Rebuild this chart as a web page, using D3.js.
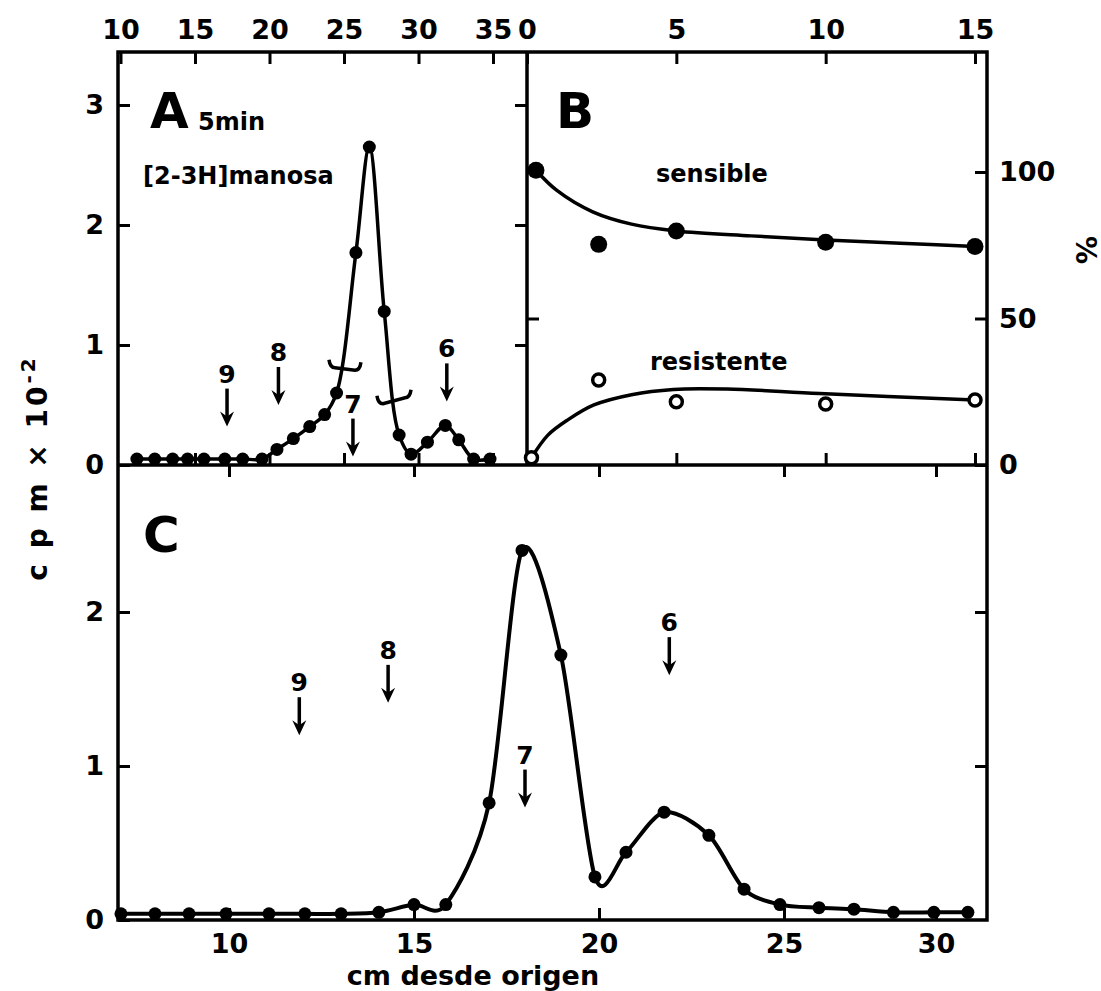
<!DOCTYPE html>
<html>
<head>
<meta charset="utf-8">
<script src="https://cdn.jsdelivr.net/npm/d3@7"></script>
<style>
body { margin: 0; background: #fff; }
text { font-family: "DejaVu Sans", sans-serif; font-weight: bold; fill: #000; }
</style>
</head>
<body>
<svg id="chart" width="1101" height="991"></svg>
<script>
// panel A : 5 min pulse, cpm x 10^-2 vs cm
var aCm  = [11.1, 12.3, 13.5, 14.5, 15.6, 17.0, 18.2, 19.5, 20.5, 21.6, 22.7, 23.7, 24.5, 25.8, 26.7, 27.7, 28.7, 29.5, 30.6, 31.8, 32.7, 33.7, 34.8];
var aCpm = [0.05, 0.05, 0.05, 0.05, 0.05, 0.05, 0.05, 0.05, 0.13, 0.22, 0.32, 0.42, 0.6, 1.77, 2.65, 1.28, 0.25, 0.09, 0.19, 0.33, 0.21, 0.05, 0.05];

// panel B : % sensible / resistente vs time
var sensT = [0.3, 2.4, 5, 10, 15];
var sensV = [100.6, 75.3, 79.9, 76, 74.6];
var resT  = [0.15, 2.4, 5, 10, 15];
var resV  = [2.5, 29, 21.6, 20.8, 22.2];
// hand drawn curves in B
var sensFitT = [0.3, 1, 2.2, 3.5, 5, 7.5, 10, 12.5, 15];
var sensFitV = [100.6, 93.7, 86.4, 82.2, 79.9, 78.2, 76.8, 75.7, 74.6];
var resFitT  = [0.15, 0.7, 1.35, 2.24, 3.5, 4.9, 6.7, 9.8, 15];
var resFitV  = [2.5, 10.2, 15.3, 20.5, 24, 25.8, 25.9, 24.4, 22.2];

// panel C
var cCm  = [7.08, 8.0, 8.92, 9.92, 11.08, 12.05, 13.03, 14.05, 15.0, 15.86, 17.03, 17.92, 18.97, 19.89, 20.73, 21.76, 22.97, 23.92, 24.89, 26.15, 27.3, 28.6, 29.93, 31.05];
var cCpm = [0.04, 0.04, 0.04, 0.04, 0.04, 0.04, 0.04, 0.05, 0.1, 0.1, 0.76, 2.4, 1.72, 0.28, 0.44, 0.7, 0.55, 0.2, 0.1, 0.08, 0.07, 0.05, 0.05, 0.05];

// standards 9,8,7,6 (arrow tips)
var stdLabels = ["9", "8", "7", "6"];
var aStdCm  = [17.15, 20.6, 25.6, 31.9];
var aStdTip = [0.32, 0.5, 0.07, 0.53];
var cStdCm  = [11.9, 14.3, 18.0, 21.9];
var cStdTip = [1.2, 1.41, 0.73, 1.59];

// cut marks on the A peak
var cutCm1 = [24.06, 27.28], cutCm2 = [26.07, 29.43];
var cutV1  = [0.81, 0.51],   cutV2  = [0.79, 0.56];

// ticks
var aXTicks = [10, 15, 20, 25, 30, 35];
var bXTicks = [0, 5, 10, 15];
var cXTicks = [10, 15, 20, 25, 30];
var aYTicks = [0, 1, 2, 3];
var bYTicks = [0, 50, 100];
var cYTicks = [0, 1, 2];

var svg = d3.select("#chart");

var L = 118, R = 987, T = 52, MID = 465, BOT = 920, VX = 527;

var xA = d3.scaleLinear().domain([10, 35]).range([120.5, 493]);
var yA = d3.scaleLinear().domain([0, 3]).range([MID, 105]);
var xB = d3.scaleLinear().domain([0, 15]).range([VX, 975]);
var yB = d3.scaleLinear().domain([0, 100]).range([MID, 172]);
// the 30 mark of the original axis sits closer to 25 than the others
var xC = d3.scaleLinear().domain([7, 25, 30, 31.68]).range([L, 784, 936, R]);
var yC = d3.scaleLinear().domain([0, 2]).range([BOT, 612]);

var fmt = d3.format("d");

function styleAxis(g, fs) {
  g.select(".domain").remove();
  g.attr("font-family", null).attr("font-size", null);
  g.selectAll(".tick line").attr("stroke", "#000").attr("stroke-width", 3);
  g.selectAll(".tick text").style("font-size", fs + "px");
}

// top axes
svg.append("g").attr("transform", "translate(0," + T + ")")
  .call(d3.axisTop(xA).tickValues(aXTicks).tickSize(-12).tickPadding(13).tickFormat(fmt))
  .call(styleAxis, 27);
svg.append("g").attr("transform", "translate(0," + T + ")")
  .call(d3.axisTop(xB).tickValues(bXTicks).tickSize(-12).tickPadding(13).tickFormat(fmt))
  .call(styleAxis, 27);
// inner ticks at the A/B baseline and C top
svg.append("g").attr("transform", "translate(0," + MID + ")")
  .call(d3.axisBottom(xA).tickValues(aXTicks.slice(1)).tickSize(-12).tickFormat(""))
  .call(styleAxis, 26);
svg.append("g").attr("transform", "translate(0," + MID + ")")
  .call(d3.axisBottom(xB).tickValues([5, 10, 15]).tickSize(-12).tickFormat(""))
  .call(styleAxis, 26);
svg.append("g").attr("transform", "translate(0," + MID + ")")
  .call(d3.axisTop(xC).tickValues(cXTicks).tickSize(-12).tickFormat(""))
  .call(styleAxis, 26);
// C bottom
svg.append("g").attr("transform", "translate(0," + BOT + ")")
  .call(d3.axisBottom(xC).tickValues(cXTicks).tickSize(-12).tickPadding(14).tickFormat(fmt))
  .call(styleAxis, 27);

// y axes
svg.append("g").attr("transform", "translate(" + L + ",0)")
  .call(d3.axisLeft(yA).tickValues(aYTicks).tickSize(-12).tickPadding(14).tickFormat(fmt))
  .call(styleAxis, 27);
svg.append("g").attr("transform", "translate(" + VX + ",0)")
  .call(d3.axisRight(yA).tickValues([1, 2, 3]).tickSize(-12).tickFormat(""))
  .call(styleAxis, 26);
svg.append("g").attr("transform", "translate(" + VX + ",0)")
  .call(d3.axisLeft(yB).tickValues([50, 100]).tickSize(-12).tickFormat(""))
  .call(styleAxis, 26);
svg.append("g").attr("transform", "translate(" + R + ",0)")
  .call(d3.axisRight(yB).tickValues(bYTicks).tickSize(-12).tickPadding(12).tickFormat(fmt))
  .call(styleAxis, 27);
svg.append("g").attr("transform", "translate(" + L + ",0)")
  .call(d3.axisLeft(yC).tickValues(cYTicks).tickSize(-12).tickPadding(14).tickFormat(fmt))
  .call(styleAxis, 27);
svg.append("g").attr("transform", "translate(" + R + ",0)")
  .call(d3.axisRight(yC).tickValues([1, 2]).tickSize(-12).tickFormat(""))
  .call(styleAxis, 26);

// frame
var frame = svg.append("g").attr("fill", "none").attr("stroke", "#000").attr("stroke-width", 3.5);
frame.append("rect").attr("x", L).attr("y", T).attr("width", R - L).attr("height", BOT - T);
frame.append("line").attr("x1", L).attr("x2", R).attr("y1", MID).attr("y2", MID);
frame.append("line").attr("x1", VX).attr("x2", VX).attr("y1", T).attr("y2", MID);

// panel A curve + points
var aLine = d3.line().x(function(d) { return xA(d[0]); }).y(function(d) { return yA(d[1]); })
  .curve(d3.curveCatmullRom.alpha(0.5));
var aData = d3.zip(aCm, aCpm);
svg.append("path").datum(aData).attr("d", aLine)
  .attr("fill", "none").attr("stroke", "#000").attr("stroke-width", 3.5);
svg.append("g").selectAll("circle").data(aData).enter().append("circle")
  .attr("cx", function(d) { return xA(d[0]); }).attr("cy", function(d) { return yA(d[1]); })
  .attr("r", 6.5).attr("fill", "#000");

// cut marks
svg.append("g").selectAll("path").data(d3.range(cutCm1.length)).enter().append("path")
  .attr("d", function(i) {
    var x1 = xA(cutCm1[i]), x2 = xA(cutCm2[i]), y1 = yA(cutV1[i]), y2 = yA(cutV2[i]);
    return "M" + (x1 - 1) + "," + (y1 - 8) + "Q" + x1 + "," + y1 + " " + (x1 + 5) + "," + y1 +
      "L" + (x2 - 5) + "," + y2 + "Q" + x2 + "," + y2 + " " + (x2 + 1) + "," + (y2 - 8);
  })
  .attr("fill", "none").attr("stroke", "#000").attr("stroke-width", 3.5);

// panel B
var bLine = d3.line().x(function(d) { return xB(d[0]); }).y(function(d) { return yB(d[1]); })
  .curve(d3.curveCatmullRom.alpha(0.5));
svg.append("path").datum(d3.zip(sensFitT, sensFitV)).attr("d", bLine)
  .attr("fill", "none").attr("stroke", "#000").attr("stroke-width", 3.5);
svg.append("path").datum(d3.zip(resFitT, resFitV)).attr("d", bLine)
  .attr("fill", "none").attr("stroke", "#000").attr("stroke-width", 3.5);
svg.append("g").selectAll("circle").data(d3.zip(sensT, sensV)).enter().append("circle")
  .attr("cx", function(d) { return xB(d[0]); }).attr("cy", function(d) { return yB(d[1]); })
  .attr("r", 8.5).attr("fill", "#000");
svg.append("g").selectAll("circle").data(d3.zip(resT, resV)).enter().append("circle")
  .attr("cx", function(d) { return xB(d[0]); }).attr("cy", function(d) { return yB(d[1]); })
  .attr("r", 6).attr("fill", "#fff").attr("stroke", "#000").attr("stroke-width", 3.5);

// panel C
var cLine = d3.line().x(function(d) { return xC(d[0]); }).y(function(d) { return yC(d[1]); })
  .curve(d3.curveCardinal.tension(0.15));
var cData = d3.zip(cCm, cCpm);
svg.append("path").datum(cData).attr("d", cLine)
  .attr("fill", "none").attr("stroke", "#000").attr("stroke-width", 4);
svg.append("g").selectAll("circle").data(cData).enter().append("circle")
  .attr("cx", function(d) { return xC(d[0]); }).attr("cy", function(d) { return yC(d[1]); })
  .attr("r", 6.5).attr("fill", "#000");

// arrows for the standards
function arrows(xs, ys, cms, tips) {
  var g = svg.append("g");
  var grp = g.selectAll("g").data(d3.range(stdLabels.length)).enter().append("g")
    .attr("transform", function(i) { return "translate(" + xs(cms[i]) + "," + ys(tips[i]) + ")"; });
  grp.append("line").attr("x1", 0).attr("x2", 0).attr("y1", -38).attr("y2", -8)
    .attr("stroke", "#000").attr("stroke-width", 3.5);
  grp.append("path").attr("d", "M-7,-15L0,0L7,-15L0,-10Z").attr("fill", "#000");
  grp.append("text").attr("x", 0).attr("y", -44).attr("text-anchor", "middle")
    .style("font-size", "25px").text(function(i) { return stdLabels[i]; });
}
arrows(xA, yA, aStdCm, aStdTip);
arrows(xC, yC, cStdCm, cStdTip);

// labels
function label(x, y, s, fs) {
  return svg.append("text").attr("x", x).attr("y", y).style("font-size", fs + "px").text(s);
}
label(150, 128, "A", 50);
label(198, 130, "5min", 24);
label(143, 184, "[2-3H]manosa", 24);
label(556, 128, "B", 50);
label(656, 182, "sensible", 24);
label(650, 370, "resistente", 24);
label(143, 552, "C", 50);
label(473, 985, "cm desde origen", 27).attr("text-anchor", "middle");

var yl = svg.append("text").attr("transform", "translate(47,468) rotate(-90)")
  .attr("text-anchor", "middle").style("font-size", "28px").style("letter-spacing", "3px");
yl.append("tspan").text("c p m  \u00d7  10");
yl.append("tspan").attr("dy", -12).style("font-size", "20px").text("-2");

svg.append("text").attr("transform", "translate(1076,250) rotate(90)")
  .attr("text-anchor", "middle").style("font-size", "28px").text("%");
</script>
</body>
</html>
